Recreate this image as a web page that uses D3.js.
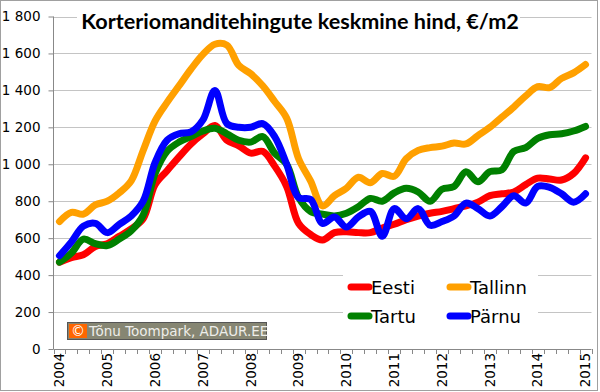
<!DOCTYPE html>
<html><head><meta charset="utf-8">
<script src="https://cdn.jsdelivr.net/npm/d3@7"></script>
<style>
html,body{margin:0;padding:0;background:#fff;}
svg{display:block;}
</style></head>
<body>
<svg id="c" width="600" height="392"></svg>
<script>
const categories = [
 "2004-1","2004-2","2004-3","2004-4","2005-1","2005-2","2005-3","2005-4",
 "2006-1","2006-2","2006-3","2006-4","2007-1","2007-2","2007-3","2007-4",
 "2008-1","2008-2","2008-3","2008-4","2009-1","2009-2","2009-3","2009-4",
 "2010-1","2010-2","2010-3","2010-4","2011-1","2011-2","2011-3","2011-4",
 "2012-1","2012-2","2012-3","2012-4","2013-1","2013-2","2013-3","2013-4",
 "2014-1","2014-2","2014-3","2014-4","2015-1"];
const yearLabels = ["2004","2005","2006","2007","2008","2009","2010","2011","2012","2013","2014","2015"];
const yTicks = [0,200,400,600,800,1000,1200,1400,1600,1800];

const eesti = [470,495,510,555,570,610,650,705,890,965,1040,1110,1165,1210,1130,1100,1060,1070,990,880,
  680,620,590,630,635,630,630,655,675,700,720,735,745,760,775,795,830,840,850,890,925,920,915,950,1035];
const tallinn = [690,740,730,780,800,845,910,1075,1235,1335,1425,1515,1595,1650,1645,1535,1490,1425,1340,1250,
  1030,910,775,830,870,930,900,950,935,1030,1075,1090,1098,1115,1110,1155,1200,1255,1310,1370,1420,1415,1465,1495,1540];
const tartu = [470,520,595,570,560,595,640,725,950,1070,1120,1150,1180,1195,1165,1130,1120,1150,1060,1000,
  820,745,730,720,735,770,815,800,845,870,850,800,865,880,960,905,960,970,1070,1090,1140,1160,1165,1180,1205];
const parnu = [505,580,665,680,630,675,720,800,1010,1130,1165,1175,1240,1400,1220,1200,1200,1220,1150,1000,
  820,810,680,715,660,715,745,610,760,705,760,670,690,720,790,760,720,770,830,790,880,875,840,795,840];

const seriesNames = ["Eesti","Tallinn","Tartu","Pärnu"];
const seriesColors = ["#ff0000","#ffa000","#008000","#0000ff"];
const seriesValues = [eesti, tallinn, tartu, parnu];

const svg = d3.select("#c");
const pLeft = 53.5, pRight = 591.5, pTop = 16.5, pBottom = 349;

const x = d3.scaleBand().domain(categories).range([pLeft, pRight]).padding(0);
const y = d3.scaleLinear().domain([0,1800]).range([pBottom, pTop]);
const cx = c => x(c) + x.bandwidth()/2;

// outer border
svg.append("rect").attr("x",0.5).attr("y",0.5).attr("width",597).attr("height",390)
  .attr("fill","#fff").attr("stroke","#a0a0a0");

// gridlines
svg.append("g").selectAll("line").data(yTicks.filter(d=>d>0)).join("line")
  .attr("x1",pLeft).attr("x2",pRight)
  .attr("y1",d=>Math.round(y(d))+0.5).attr("y2",d=>Math.round(y(d))+0.5)
  .attr("stroke","#c4c4c4").attr("stroke-width",1);

// y axis
const yAxis = d3.axisLeft(y).tickValues(yTicks).tickSize(5).tickPadding(8)
  .tickFormat(d => d3.format(",")(d).replace(/,/g," "));
const gy = svg.append("g").attr("transform",`translate(${pLeft},0)`).call(yAxis);
gy.select(".domain").attr("stroke","#888").attr("d",`M0,${pTop}V${pBottom}`);
gy.selectAll(".tick line").attr("stroke","#888");
gy.selectAll(".tick text").attr("font-family","DejaVu Sans").attr("font-size",13.5).attr("fill","#000");

// x axis
const gx = svg.append("g").attr("transform",`translate(0,${pBottom})`);
gx.append("line").attr("x1",pLeft).attr("x2",pRight).attr("y1",0.5).attr("y2",0.5).attr("stroke","#888");
const bounds = categories.map(c => x(c)).concat([pRight]);
gx.selectAll("line.tk").data(bounds).join("line").attr("class","tk")
  .attr("x1",d=>Math.round(d)+0.5).attr("x2",d=>Math.round(d)+0.5).attr("y1",0).attr("y2",5)
  .attr("stroke","#888");
gx.selectAll("text").data(yearLabels).join("text")
  .attr("transform", d => `translate(${cx(d+"-1")},4) rotate(-90)`)
  .attr("text-anchor","end").attr("dy","0.35em")
  .attr("font-family","DejaVu Sans").attr("font-size",13.5).attr("fill","#000")
  .text(d=>d);

// title
svg.append("rect").attr("x",77).attr("y",3).attr("width",443).attr("height",40).attr("fill","#fff");
svg.append("text").attr("x",300).attr("y",29).attr("text-anchor","middle")
  .attr("font-family","Lato").attr("font-weight","bold").attr("font-size",21.6).attr("fill","#000")
  .text("Korteriomanditehingute keskmine hind, €/m2");

// legend background
svg.append("rect").attr("x",343).attr("y",262).attr("width",195).attr("height",74).attr("fill","#fff");

// copyright box
const cp = svg.append("g");
cp.append("rect").attr("x",67.5).attr("y",322.5).attr("width",199).attr("height",17)
  .attr("fill","#868673").attr("stroke","#555");
cp.append("rect").attr("x",69).attr("y",324).attr("width",18).attr("height",14).attr("fill","#ff6600");
cp.append("text").attr("x",78).attr("y",336).attr("text-anchor","middle")
  .attr("font-family","DejaVu Sans").attr("font-size",14).attr("fill","#fff").text("©");
cp.append("text").attr("x",89).attr("y",336)
  .attr("font-family","DejaVu Sans").attr("font-size",13.5).attr("fill","#eeeeea").text("Tõnu Toompark, ADAUR.EE");

// lines
const line = d3.line().x((d,i)=>cx(categories[i])).y(d=>y(d)).curve(d3.curveCatmullRom.alpha(0.5));
svg.append("g").selectAll("path").data(seriesValues).join("path")
  .attr("d", d=>line(d)).attr("fill","none")
  .attr("stroke",(d,i)=>seriesColors[i]).attr("stroke-width",7)
  .attr("stroke-linejoin","round").attr("stroke-linecap","round");

// legend
const legPos = [[348,287],[447,287],[348,316],[447,316]];
const lg = svg.append("g");
seriesNames.forEach((n,i)=>{
  const [lx,ly] = legPos[i];
  lg.append("line").attr("x1",lx+3).attr("x2",lx+21).attr("y1",ly).attr("y2",ly)
    .attr("stroke",seriesColors[i]).attr("stroke-width",7).attr("stroke-linecap","round");
  lg.append("text").attr("x",lx+23).attr("y",ly+7)
    .attr("font-family","DejaVu Sans").attr("font-size",18).attr("fill","#000").text(n);
});
</script>
</body></html>
